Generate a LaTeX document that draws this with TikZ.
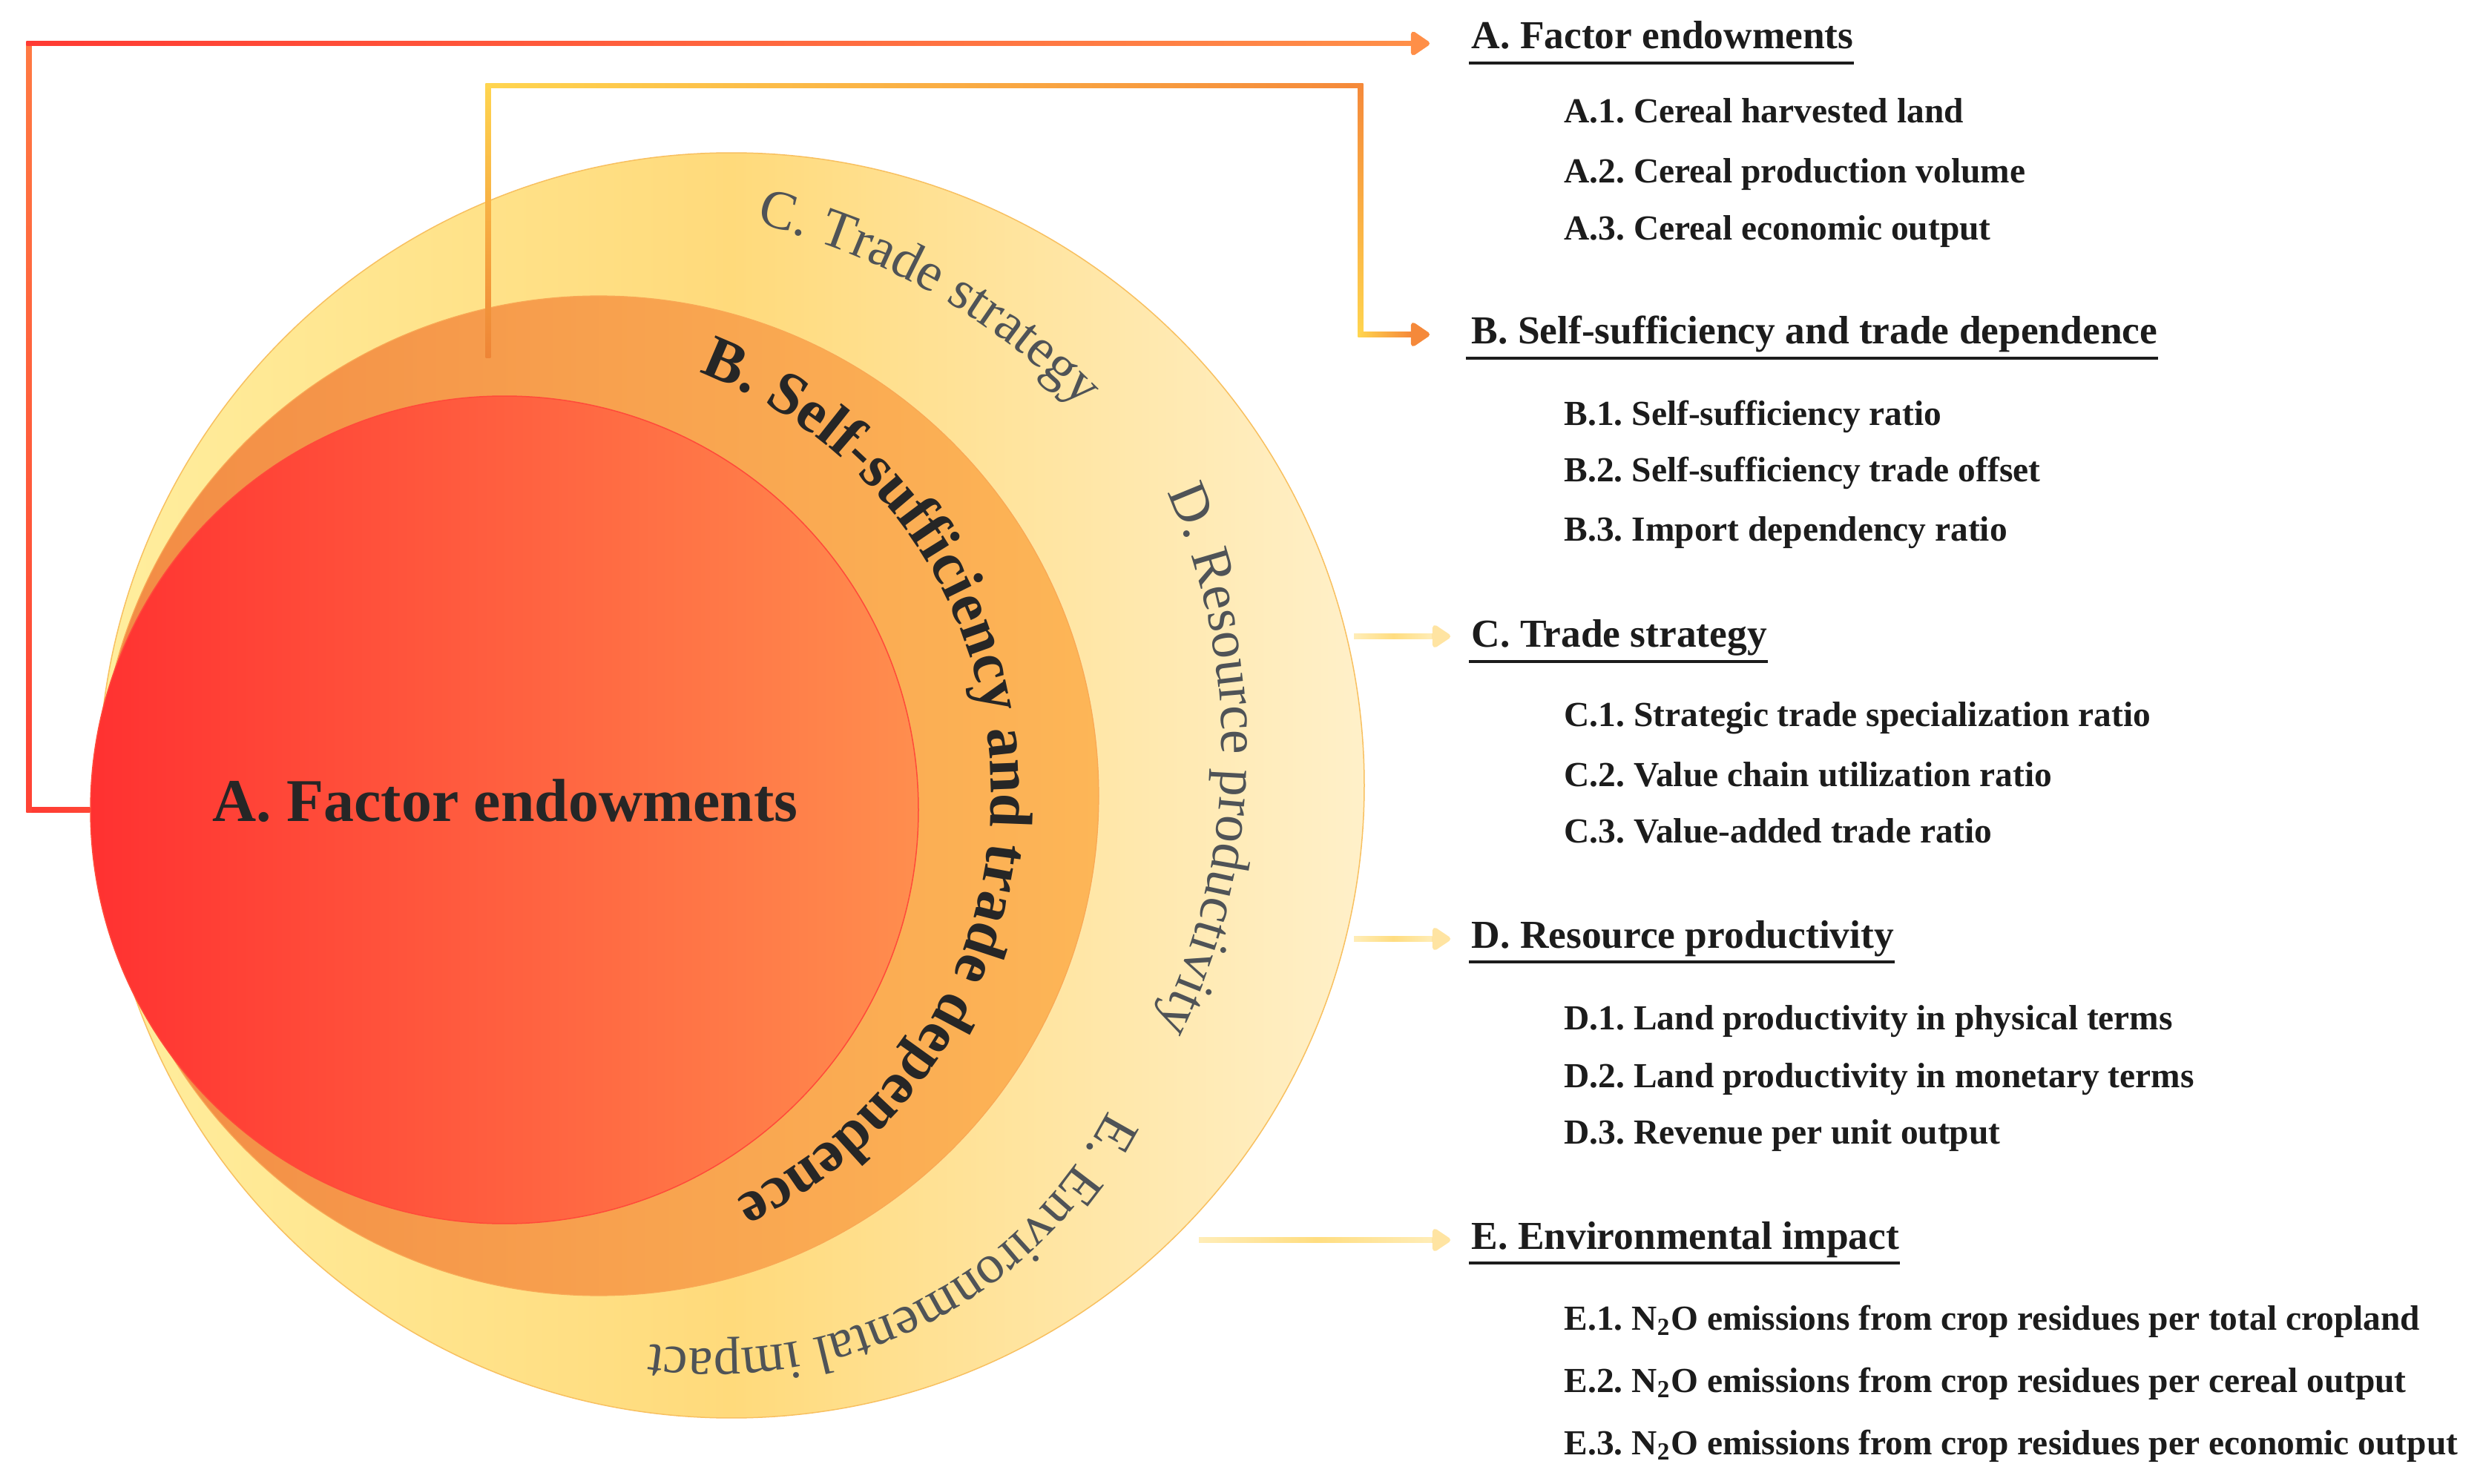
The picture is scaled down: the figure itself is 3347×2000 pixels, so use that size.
\documentclass[tikz,border=0pt]{standalone}
\usepackage{fontspec}
\setmainfont{Liberation Serif}
\usetikzlibrary{calc,decorations.text,arrows.meta}
\frenchspacing

\definecolor{aL}{HTML}{FF3131}
\definecolor{aR}{HTML}{FF8E4E}
\definecolor{aBorder}{HTML}{FF4A3A}
\definecolor{bL}{HTML}{F28B45}
\definecolor{bR}{HTML}{FDB657}
\definecolor{bBorder}{HTML}{F9A855}
\definecolor{cL}{HTML}{FFEE9E}
\definecolor{cM}{HTML}{FFDA7B}
\definecolor{cR}{HTML}{FFF0C9}
\definecolor{cBorder}{HTML}{F8C060}
\definecolor{txtdark}{HTML}{262626}
\definecolor{txtgray}{HTML}{4F5357}
\definecolor{txt}{HTML}{1C1C1C}
\definecolor{lnRed}{HTML}{FF3A33}
\definecolor{lnOrg}{HTML}{FF8F48}
\definecolor{lnYel}{HTML}{FFD54F}
\definecolor{lnOrg2}{HTML}{F5893A}
\definecolor{lnBorg}{HTML}{EE8436}
\definecolor{lnPale}{HTML}{FFDD80}
\definecolor{lnPaleL}{HTML}{FFEDB8}
\definecolor{lnPaleH}{HTML}{FFE4A2}

\newcommand{\hw}{3.3}

\tikzset{
  ring/.style={circle, inner sep=0pt},
  head/.style={anchor=base west, inner sep=0pt, text=txt, font=\fontsize{15.2}{18}\selectfont\bfseries},
  item/.style={anchor=base west, inner sep=0pt, text=txt, font=\fontsize{13.5}{16}\selectfont\bfseries},
  uline/.style={line width=0.4mm, draw=txt},
  tipA/.style={-{Triangle[length=2.8mm,width=3.6mm,round]}, line width=0.66mm},
  tipP/.style={-{Triangle[length=2.7mm,width=3.4mm,round]}, line width=0.7mm, draw=lnPaleH}
}

\begin{document}
\begin{tikzpicture}[x=0.1mm,y=0.1mm]
\useasboundingbox (0,0) rectangle (3347,2000);
\fill[white] (0,0) rectangle (3347,2000);

% ---------- circles ----------
\node[ring, minimum size=170.6mm, left color=cL, right color=cR, middle color=cM,
      draw=cBorder, line width=0.15mm] (C) at (986,941) {};
\node[ring, minimum size=134.8mm, left color=bL, right color=bR,
      draw=bBorder, line width=0.12mm] (B) at (807,927) {};
\node[ring, minimum size=111.6mm, left color=aL, right color=aR,
      draw=aBorder, line width=0.15mm] (A) at (680,908) {};

% ---------- connector A ----------
\coordinate (a1) at (39,908);
\coordinate (a2) at (39,1941.4);
\coordinate (a3) at (1902,1941.4);
\coordinate (aTip) at (1927,1941.4);
\shade[left color=lnRed, right color=lnRed!85!lnOrg] ($(a1)+(-\hw,-\hw)$) rectangle ($(A.west)+(0,\hw)$);
\shade[bottom color=lnRed!90!lnOrg, top color=lnOrg!75!lnRed] ($(a1)+(-\hw,-\hw)$) rectangle ($(a2)+(\hw,\hw)$);
\shade[left color=lnRed, right color=lnOrg] ($(a2)+(-\hw,-\hw)$) rectangle ($(a3)+(0,\hw)$);
\draw[tipA, draw=lnOrg] ($(a3)+(-2,0)$) -- (aTip);

% ---------- connector B ----------
\coordinate (b0) at (658,1517);
\coordinate (b1) at (658,1884.4);
\coordinate (b2) at (1834,1884.4);
\coordinate (b3) at (1834,1549);
\coordinate (b4) at (1902,1549);
\coordinate (bTip) at (1927,1549);
\shade[bottom color=lnBorg, top color=lnYel] ($(b0)+(-\hw,0)$) rectangle ($(b1)+(\hw,\hw)$);
\shade[left color=lnYel, right color=lnOrg2] ($(b1)+(-\hw,-\hw)$) rectangle ($(b2)+(\hw,\hw)$);
\shade[top color=lnOrg2, bottom color=lnYel] ($(b3)+(-\hw,-\hw)$) rectangle ($(b2)+(\hw,\hw)$);
\shade[left color=lnYel, right color=lnOrg2] ($(b3)+(-\hw,-\hw)$) rectangle ($(b4)+(0,\hw)$);
\draw[tipA, draw=lnOrg2] ($(b4)+(-2,0)$) -- (bTip);

% ---------- connectors C, D, E ----------
\coordinate (c0) at (1825,1142); \coordinate (c1) at (1932,1142); \coordinate (cTip) at (1955,1142);
\coordinate (d0) at (1825,734);  \coordinate (d1) at (1932,734);  \coordinate (dTip) at (1955,734);
\coordinate (e0) at (1616,328);  \coordinate (e1) at (1932,328);  \coordinate (eTip) at (1955,328);
\foreach \s/\m/\t in {c0/c1/cTip, d0/d1/dTip, e0/e1/eTip}{
  \shade[left color=lnPaleL, right color=lnPaleL, middle color=lnPale] ($(\s)+(0,-3.5)$) rectangle ($(\m)+(0,3.5)$);
  \draw[tipP] ($(\m)+(-2,0)$) -- (\t);
}

% ---------- circle labels ----------
\node[anchor=base, inner sep=0pt, text=txtdark, font=\fontsize{23.3}{28}\selectfont\bfseries] (Alab) at (681,893) {A. Factor endowments};

\path[decorate, decoration={text along path, text align=center, text color=txtdark,
  text={|\fontsize{23.3}{28}\selectfont\bfseries|B. Self-sufficiency and trade dependence}}]
  (730,930) ++(95:606) arc[start angle=95, end angle=-90, radius=606];

\path[decorate, decoration={text along path, text align=center, text color=txtgray,
  text={|\fontsize{21}{25}\selectfont|C. Trade strategy}}]
  (800,800) ++(85:925) arc[start angle=85, end angle=36, radius=925];

\path[decorate, decoration={text along path, text align=center, text color=txtgray,
  text={|\fontsize{21}{25}\selectfont|D. Resource productivity}}]
  (800,990) ++(30:847) arc[start angle=30, end angle=-32, radius=847];

\path[decorate, decoration={text along path, text align=center, text color=txtgray,
  text={|\fontsize{21}{25}\selectfont|E. Environmental impact}}]
  (966,775) ++(-20:594) arc[start angle=-20, end angle=-106, radius=594];

% ---------- right-hand list ----------
\node[head] (hA) at (1983,1934) {A. Factor endowments};
\draw[uline] ($(hA.base west)+(-3,-19)$) -- ($(hA.base east)+(0,-19)$);
\node[item] (iA1) at (2108,1834) {A.1. Cereal harvested land};
\node[item] (iA2) at (2108,1753) {A.2. Cereal production volume};
\node[item] (iA3) at (2108,1676) {A.3. Cereal economic output};

\node[head] (hB) at (1983,1536) {B. Self-sufficiency and trade dependence};
\draw[uline] ($(hB.base west)+(-7,-19)$) -- ($(hB.base east)+(0,-19)$);
\node[item] (iB1) at (2108,1426) {B.1. Self-sufficiency ratio};
\node[item] (iB2) at (2108,1350) {B.2. Self-sufficiency trade offset};
\node[item] (iB3) at (2108,1270) {B.3. Import dependency ratio};

\node[head] (hC) at (1983,1127) {C. Trade strategy};
\draw[uline] ($(hC.base west)+(-3,-19)$) -- ($(hC.base east)+(0,-19)$);
\node[item] (iC1) at (2108,1020) {C.1. Strategic trade specialization ratio};
\node[item] (iC2) at (2108,940) {C.2. Value chain utilization ratio};
\node[item] (iC3) at (2108,863) {C.3. Value-added trade ratio};

\node[head] (hD) at (1983,722) {D. Resource productivity};
\draw[uline] ($(hD.base west)+(-3,-19)$) -- ($(hD.base east)+(0,-19)$);
\node[item] (iD1) at (2108,612) {D.1. Land productivity in physical terms};
\node[item] (iD2) at (2108,534) {D.2. Land productivity in monetary terms};
\node[item] (iD3) at (2108,458) {D.3. Revenue per unit output};

\node[head] (hE) at (1983,316) {E. Environmental impact};
\draw[uline] ($(hE.base west)+(-3,-19)$) -- ($(hE.base east)+(0,-19)$);
\node[item] (iE1) at (2108,207) {E.1. N\textsubscript{2}O emissions from crop residues per total cropland};
\node[item] (iE2) at (2108,123) {E.2. N\textsubscript{2}O emissions from crop residues per cereal output};
\node[item] (iE3) at (2108,39) {E.3. N\textsubscript{2}O emissions from crop residues per economic output};
\end{tikzpicture}
\end{document}
